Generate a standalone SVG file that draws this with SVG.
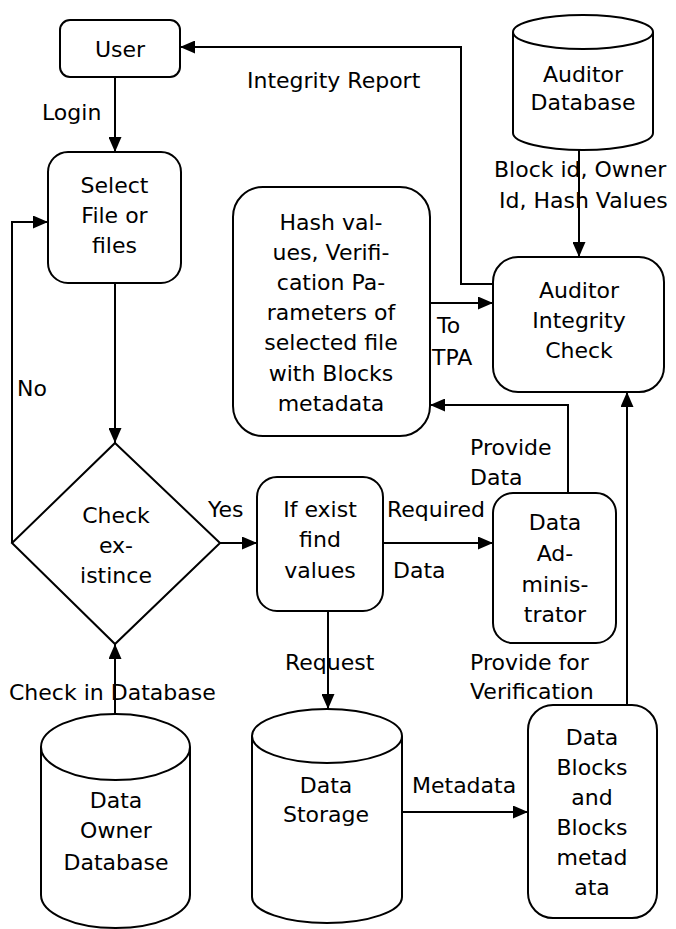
<svg xmlns="http://www.w3.org/2000/svg" width="676" height="929" viewBox="0 0 676 929">
  <defs>
    <marker id="arrow" markerUnits="userSpaceOnUse" markerWidth="15" markerHeight="13" refX="15" refY="6.5" orient="auto">
      <path d="M0,0 L15,6.5 L0,13 Z" fill="#000"/>
    </marker>
    <style>
      .shape { fill: none; stroke: #000; stroke-width: 2; }
      .edge { fill: none; stroke: #000; stroke-width: 2; marker-end: url(#arrow); }
      text { font-family: "DejaVu Sans", Verdana, sans-serif; font-size: 22px; fill: #000; }
      .c { text-anchor: middle; }
    </style>
  </defs>
  <rect width="676" height="929" fill="#fff"/>

  <g id="connectors">
    <polyline class="edge" points="493,284 461,284 461,47 180,47"/>
    <line class="edge" x1="115" y1="77" x2="115" y2="152"/>
    <line class="edge" x1="115" y1="283" x2="115" y2="443"/>
    <polyline class="edge" points="12,543 12,222 48,222"/>
    <line class="edge" x1="220" y1="543" x2="257" y2="543"/>
    <line class="edge" x1="115" y1="713" x2="115" y2="644"/>
    <line class="edge" x1="328" y1="611" x2="328" y2="709"/>
    <line class="edge" x1="383" y1="543" x2="493" y2="543"/>
    <polyline class="edge" points="568,493 568,405 430,405"/>
    <line class="edge" x1="430" y1="303" x2="493" y2="303"/>
    <line class="edge" x1="579" y1="150" x2="579" y2="257"/>
    <line class="edge" x1="402" y1="812" x2="528" y2="812"/>
    <line class="edge" x1="627" y1="706" x2="627" y2="392"/>

    <text x="247" y="88">Integrity Report</text>
    <text x="42" y="120">Login</text>
    <text x="17" y="396">No</text>
    <text x="208" y="517">Yes</text>
    <text x="9" y="700">Check in Database</text>
    <text x="285" y="670">Request</text>
    <text x="387" y="517">Required</text>
    <text x="393" y="578">Data</text>
    <text x="470" y="455">Provide</text>
    <text x="470" y="485">Data</text>
    <text x="437" y="333">To</text>
    <text x="432" y="365">TPA</text>
    <text x="494" y="177">Block id, Owner</text>
    <text x="499" y="208">Id, Hash Values</text>
    <text x="470" y="670">Provide for</text>
    <text x="470" y="699">Verification</text>
    <text x="412" y="793">Metadata</text>
  </g>

  <g id="user">
    <rect class="shape" x="60" y="20" width="120" height="57" rx="10"/>
    <text class="c" x="120" y="57">User</text>
  </g>

  <g id="select-files">
    <rect class="shape" x="48" y="152" width="133" height="131" rx="20"/>
    <text class="c" x="114.5" y="193">Select</text>
    <text class="c" x="114.5" y="223">File or</text>
    <text class="c" x="114.5" y="253">files</text>
  </g>

  <g id="check-existence">
    <polygon class="shape" points="115,443 220,543 115,644 12,543"/>
    <text class="c" x="116" y="523">Check</text>
    <text class="c" x="116" y="553">ex-</text>
    <text class="c" x="116" y="583">istince</text>
  </g>

  <g id="find-values">
    <rect class="shape" x="257" y="477" width="126" height="134" rx="20"/>
    <text class="c" x="320" y="517">If exist</text>
    <text class="c" x="320" y="547">find</text>
    <text class="c" x="320" y="578">values</text>
  </g>

  <g id="data-administrator">
    <rect class="shape" x="493" y="493" width="123" height="150" rx="20"/>
    <text class="c" x="555" y="530">Data</text>
    <text class="c" x="555" y="561">Ad-</text>
    <text class="c" x="555" y="592">minis-</text>
    <text class="c" x="555" y="622">trator</text>
  </g>

  <g id="verification-parameters">
    <rect class="shape" x="233" y="187" width="197" height="249" rx="30"/>
    <text class="c" x="331" y="230">Hash val-</text>
    <text class="c" x="331" y="260">ues, Verifi-</text>
    <text class="c" x="331" y="290">cation Pa-</text>
    <text class="c" x="331" y="320">rameters of</text>
    <text class="c" x="331" y="350">selected file</text>
    <text class="c" x="331" y="381">with Blocks</text>
    <text class="c" x="331" y="411">metadata</text>
  </g>

  <g id="auditor-integrity-check">
    <rect class="shape" x="493" y="257" width="171" height="135" rx="25"/>
    <text class="c" x="579" y="298">Auditor</text>
    <text class="c" x="579" y="328">Integrity</text>
    <text class="c" x="579" y="358">Check</text>
  </g>

  <g id="auditor-database">
    <path class="shape" d="M513,32 A70,17 0 0,1 653,32 A70,17 0 0,1 513,32 Z M513,32 L513,133 A70,17 0 0,0 653,133 L653,32"/>
    <text class="c" x="583" y="82">Auditor</text>
    <text class="c" x="583" y="110">Database</text>
  </g>

  <g id="data-owner-database">
    <path class="shape" d="M41,747 A74.5,33 0 0,1 190,747 A74.5,33 0 0,1 41,747 Z M41,747 L41,895 A74.5,33 0 0,0 190,895 L190,747"/>
    <text class="c" x="116" y="808">Data</text>
    <text class="c" x="116" y="838">Owner</text>
    <text class="c" x="116" y="870">Database</text>
  </g>

  <g id="data-storage">
    <path class="shape" d="M252,736 A75,27 0 0,1 402,736 A75,27 0 0,1 252,736 Z M252,736 L252,897 A75,26 0 0,0 402,897 L402,736"/>
    <text class="c" x="326" y="793">Data</text>
    <text class="c" x="326" y="822">Storage</text>
  </g>

  <g id="data-blocks">
    <rect class="shape" x="528" y="705" width="129" height="213" rx="25"/>
    <text class="c" x="592" y="745">Data</text>
    <text class="c" x="592" y="775">Blocks</text>
    <text class="c" x="592" y="805">and</text>
    <text class="c" x="592" y="835">Blocks</text>
    <text class="c" x="592" y="865">metad</text>
    <text class="c" x="592" y="895">ata</text>
  </g>
</svg>
